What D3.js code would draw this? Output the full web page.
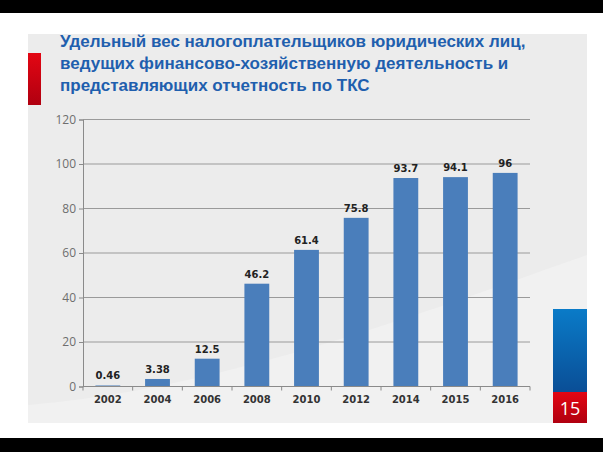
<!DOCTYPE html>
<html>
<head>
<meta charset="utf-8">
<script src="https://cdn.jsdelivr.net/npm/d3@7"></script>
<style>
  body { margin: 0; background: #000; }
  svg { display: block; }
</style>
</head>
<body>
<svg id="chart" width="603" height="452"></svg>
<script>
// chart data
const years = ['2002', '2004', '2006', '2008', '2010', '2012', '2014', '2015', '2016'];
const shares = [0.46, 3.38, 12.5, 46.2, 61.4, 75.8, 93.7, 94.1, 96];
const valueLabels = ['0.46', '3.38', '12.5', '46.2', '61.4', '75.8', '93.7', '94.1', '96'];
const yTicks = [0, 20, 40, 60, 80, 100, 120];
const titleLines = [
  'Удельный вес налогоплательщиков юридических лиц,',
  'ведущих финансово-хозяйственную деятельность и',
  'представляющих отчетность по ТКС'
];
const slideNumber = '15';

const svg = d3.select('#chart');

// slide background
svg.append('rect').attr('x', 0).attr('y', 13).attr('width', 603).attr('height', 425).attr('fill', '#fff');

const defs = svg.append('defs');
svg.append('rect').attr('x', 28).attr('y', 34).attr('width', 559).attr('height', 389).attr('fill', '#ececec');

// light swoosh in the background
svg.append('path')
  .attr('d', 'M28,423 L28,405 C220,390 430,310 587,255 L587,423 Z')
  .attr('fill', '#f1f1f1');

// red marker left of title
const redGrad = defs.append('linearGradient').attr('id', 'red').attr('x1', 0).attr('y1', 0).attr('x2', 0).attr('y2', 1);
redGrad.append('stop').attr('offset', '0%').attr('stop-color', '#e30613');
redGrad.append('stop').attr('offset', '100%').attr('stop-color', '#b00010');
svg.append('rect').attr('x', 28).attr('y', 53).attr('width', 13).attr('height', 52).attr('fill', 'url(#red)');

// title
svg.append('g').selectAll('text')
  .data(titleLines)
  .enter()
  .append('text')
  .attr('x', 60)
  .attr('y', (d, i) => 47 + i * 22)
  .style('font-family', '"Liberation Sans", Arial, sans-serif')
  .style('font-weight', 'bold')
  .style('font-size', '17px')
  .attr('fill', '#1f5fae')
  .text(d => d);

// SETTING THE AXES //
const plot = { left: 83, right: 530, top: 119.5, bottom: 386.5 };

const xScale = d3.scaleBand()
  .domain(years)
  .range([plot.left, plot.right])
  .paddingInner(0.5)
  .paddingOuter(0.25);

const yScale = d3.scaleLinear()
  .domain([0, 120])
  .range([plot.bottom, plot.top]);

// gridlines
svg.append('g')
  .selectAll('line')
  .data(yTicks.filter(d => d > 0))
  .enter()
  .append('line')
  .attr('x1', plot.left)
  .attr('x2', plot.right)
  .attr('y1', d => yScale(d))
  .attr('y2', d => yScale(d))
  .attr('stroke', '#9a9a9a')
  .attr('stroke-width', 1);

// y axis
const yAxis = svg.append('g')
  .attr('transform', `translate(${plot.left}, 0)`)
  .call(d3.axisLeft(yScale).tickValues(yTicks).tickSize(4).tickPadding(3));
yAxis.select('.domain').attr('stroke', '#8a8a8a');
yAxis.selectAll('.tick line').attr('stroke', '#8a8a8a');
yAxis.selectAll('.tick text')
  .style('font-family', '"Open Sans", sans-serif')
  .style('font-size', '12px')
  .attr('fill', '#6e6e6e');

// bars
svg.append('g')
  .selectAll('rect')
  .data(shares)
  .enter()
  .append('rect')
  .attr('x', (d, i) => xScale(years[i]))
  .attr('y', d => yScale(d))
  .attr('width', xScale.bandwidth())
  .attr('height', d => yScale(0) - yScale(d))
  .attr('fill', '#4a7ebb');

// x axis with ticks at category boundaries
const step = xScale.step();
svg.append('line')
  .attr('x1', plot.left).attr('x2', plot.right)
  .attr('y1', plot.bottom).attr('y2', plot.bottom)
  .attr('stroke', '#8a8a8a');
svg.append('g')
  .selectAll('line')
  .data(d3.range(years.length + 1))
  .enter()
  .append('line')
  .attr('x1', i => plot.left + i * step)
  .attr('x2', i => plot.left + i * step)
  .attr('y1', plot.bottom)
  .attr('y2', plot.bottom + 4)
  .attr('stroke', '#8a8a8a');

svg.append('g')
  .selectAll('text')
  .data(years)
  .enter()
  .append('text')
  .attr('x', d => xScale(d) + xScale.bandwidth() / 2)
  .attr('y', plot.bottom + 16)
  .style('text-anchor', 'middle')
  .style('font-family', '"DejaVu Sans", sans-serif')
  .style('font-size', '10px')
  .style('font-weight', 'bold')
  .attr('fill', '#333')
  .text(d => d);

// value labels
svg.append('g')
  .selectAll('text')
  .data(shares)
  .enter()
  .append('text')
  .attr('x', (d, i) => xScale(years[i]) + xScale.bandwidth() / 2)
  .attr('y', d => yScale(d) - 6)
  .style('text-anchor', 'middle')
  .style('font-family', '"DejaVu Sans", sans-serif')
  .style('font-size', '10px')
  .style('font-weight', 'bold')
  .attr('fill', '#222')
  .text((d, i) => valueLabels[i]);

// slide number block
const blueGrad = defs.append('linearGradient').attr('id', 'blue').attr('x1', 0).attr('y1', 0).attr('x2', 0).attr('y2', 1);
blueGrad.append('stop').attr('offset', '0%').attr('stop-color', '#0a7bc8');
blueGrad.append('stop').attr('offset', '100%').attr('stop-color', '#0a4e96');
svg.append('rect').attr('x', 553).attr('y', 309).attr('width', 34).attr('height', 83).attr('fill', 'url(#blue)');
svg.append('rect').attr('x', 553).attr('y', 392).attr('width', 34).attr('height', 31).attr('fill', 'url(#red)');
svg.append('text')
  .attr('x', 570)
  .attr('y', 415)
  .style('text-anchor', 'middle')
  .style('font-family', '"Open Sans", sans-serif')
  .style('font-size', '18px')
  .attr('fill', '#fff')
  .text(slideNumber);
</script>
</body>
</html>
